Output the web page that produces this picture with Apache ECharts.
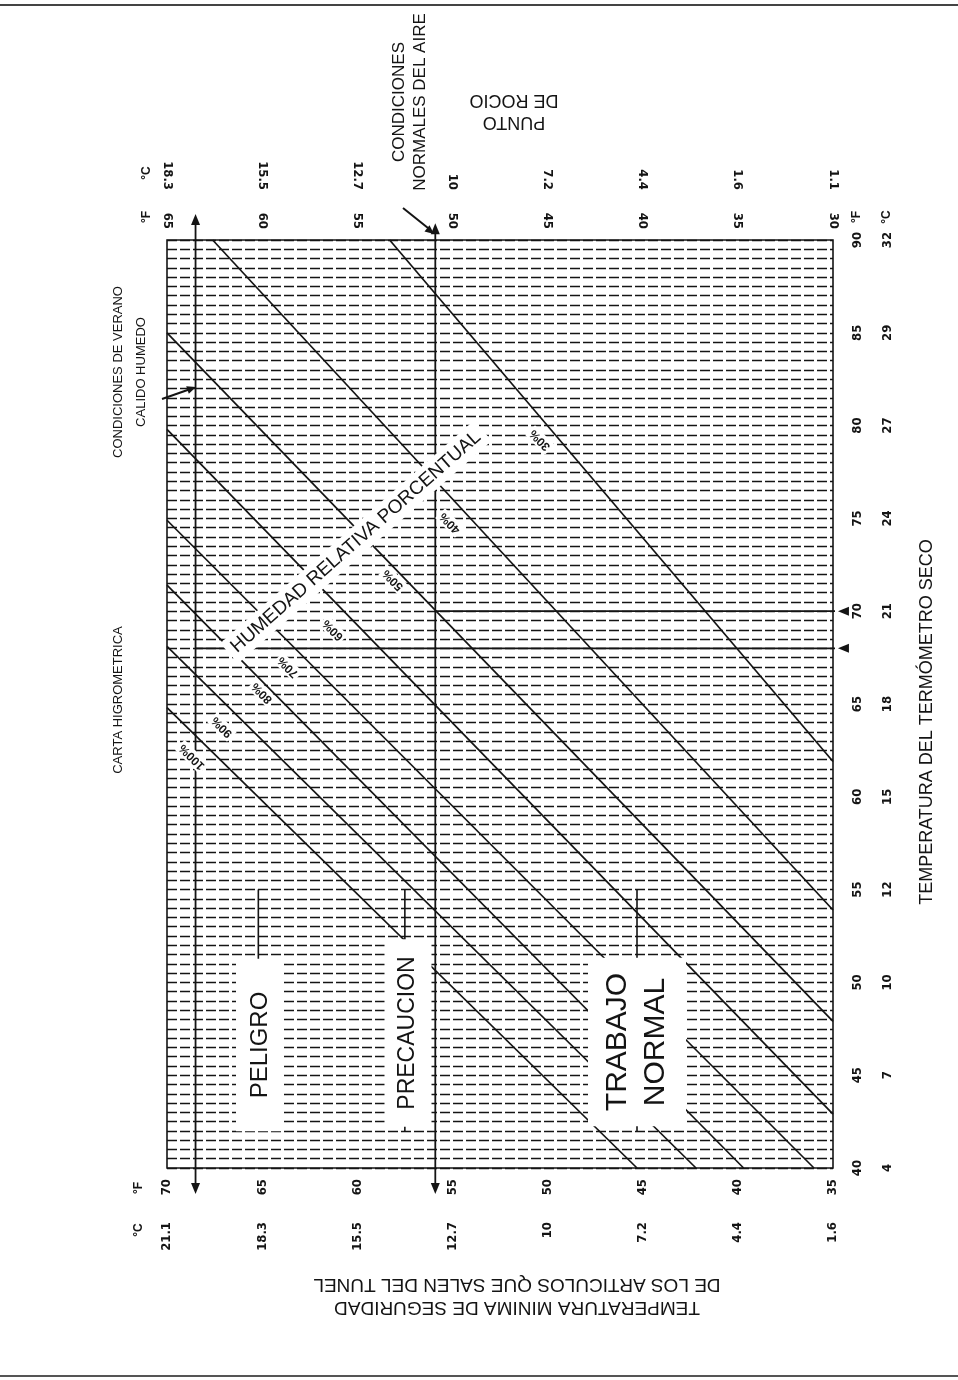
<!DOCTYPE html>
<html>
<head>
<meta charset="UTF-8">
<title>Carta higrometrica</title>
<style>
html,body{margin:0;padding:0;background:#fff;}
#main{width:958px;height:1380px;}
</style>
</head>
<body>
<div id="main"></div>
<script src="https://cdn.jsdelivr.net/npm/echarts/dist/echarts.min.js"></script>
<script>
// escalas tal como vienen impresas (°F y su equivalencia en °C)
var puntoRocioF = [30, 35, 40, 45, 50, 55, 60, 65];
var puntoRocioC = ['1.1', '1.6', '4.4', '7.2', '10', '12.7', '15.5', '18.3'];
var seguridadF = [35, 40, 45, 50, 55, 60, 65, 70];
var seguridadC = ['1.6', '4.4', '7.2', '10', '12.7', '15.5', '18.3', '21.1'];
var secoF = [40, 45, 50, 55, 60, 65, 70, 75, 80, 85, 90];
var secoC = ['4', '7', '10', '12', '15', '18', '21', '24', '27', '29', '32'];

// lineas de humedad relativa: [punto de rocio °F, termometro seco °F] en cada extremo
var humedades = ['100%', '90%', '80%', '70%', '60%', '50%', '40%', '30%'];
var hr100 = [[65, 64.8], [40.3, 40]];
var hr90 = [[65, 68.1], [37.2, 40]];
var hr80 = [[65, 71.4], [34.7, 40]];
var hr70 = [[65, 74.9], [31.0, 40]];
var hr60 = [[65, 79.8], [30, 42.9]];
var hr50 = [[65, 85.0], [30, 47.9]];
var hr40 = [[62.6, 90], [30, 53.9]];
var hr30 = [[53.3, 90], [30, 61.9]];
var lineasHR = [hr100, hr90, hr80, hr70, hr60, hr50, hr40, hr30];

// lineas del ejemplo de lectura
var verano = [[63.5, 91.1], [63.5, 38.9]];      // condiciones de verano
var normal = [[50.9, 90.6], [50.9, 38.9]];      // condiciones normales
var secoVerano = [[63.5, 68], [29.45, 68]];
var secoNormal = [[50.9, 70], [29.45, 70]];
// marcas de las zonas peligro / precaucion / trabajo normal
var marcasZona = [60.2, 52.5, 40.3];
var marcaSeco = [55, 42];

var tinta = '#141414';
var fuente = 'Liberation Sans, Arial, sans-serif';
var fuenteNum = 'DejaVu Sans Condensed, DejaVu Sans, sans-serif';

function etiqueta(valores, textos) {
	return function (v) {
		var i = valores.indexOf(v);
		return i < 0 ? '' : String(textos[i]);
	};
}

function ejeX(pos, offset, min, max, valores, textos, margen) {
	return {
		type: 'value', position: pos, offset: offset, min: min, max: max, interval: 5,
		inverse: true,
		axisLine: {show: false, onZero: false}, axisTick: {show: false}, splitLine: {show: false},
		axisLabel: {rotate: 90, margin: margen, fontSize: 13, fontWeight: 'bold', color: tinta, fontFamily: fuenteNum,
			formatter: etiqueta(valores, textos)}
	};
}

var trazo = {color: tinta, width: 1.4, type: [10, 3]};

var series = [];
lineasHR.forEach(function (d, i) {
	series.push({
		type: 'line', name: humedades[i], data: d, symbol: 'none', silent: true, z: 3,
		lineStyle: {color: tinta, width: 1.7}
	});
});

function flecha(p, giro) {
	return {value: p, symbol: 'triangle', symbolSize: [9, 11], symbolRotate: giro,
		itemStyle: {color: tinta}};
}
function ejemplo(d, g0, g1) {
	series.push({
		type: 'line', data: [g0 === null ? {value: d[0], symbol: 'none'} : flecha(d[0], g0),
			g1 === null ? {value: d[1], symbol: 'none'} : flecha(d[1], g1)],
		showSymbol: true, clip: false, silent: true, z: 4,
		lineStyle: {color: tinta, width: 1.8}
	});
}
ejemplo(verano, 0, 180);
ejemplo(normal, 0, 180);
ejemplo(secoVerano, null, 90);
ejemplo(secoNormal, null, 90);

marcasZona.forEach(function (x) {
	series.push({
		type: 'line', data: [[x, marcaSeco[0]], [x, marcaSeco[1]]], symbol: 'none', silent: true, z: 4,
		lineStyle: {color: tinta, width: 1.6}
	});
});

// textos
function texto(x, y, t, size, giro, extra) {
	var st = {text: t, font: size + 'px ' + fuente, fill: tinta,
		textAlign: 'center', textVerticalAlign: 'middle', align: 'center', verticalAlign: 'middle'};
	for (var k in (extra || {})) st[k] = extra[k];
	return {type: 'text', x: x, y: y, rotation: giro, z: 100, style: st};
}
var R90 = Math.PI / 2;
var graficos = [
	{type: 'line', z: 100, shape: {x1: 0, y1: 5, x2: 958, y2: 5}, style: {stroke: '#444', lineWidth: 2}},
	{type: 'line', z: 100, shape: {x1: 0, y1: 1376, x2: 958, y2: 1376}, style: {stroke: '#555', lineWidth: 2}},

	texto(118, 700, 'CARTA HIGROMETRICA', 13, R90),
	texto(130, 372, 'CONDICIONES DE VERANO\nCALIDO HUMEDO', 13, R90, {lineHeight: 23}),
	texto(410, 102, 'CONDICIONES\nNORMALES DEL AIRE', 17, R90, {lineHeight: 21}),
	texto(514, 111, 'PUNTO\nDE ROCIO', 18, Math.PI, {lineHeight: 22}),
	texto(927, 722, 'TEMPERATURA DEL TERMÓMETRO SECO', 18, R90),
	texto(517, 1296, 'TEMPERATURA MINIMA DE SEGURIDAD\nDE LOS ARTICULOS QUE SALEN DEL TUNEL', 19, Math.PI, {lineHeight: 23}),

	texto(147, 217, '°F', 13, R90, {fontWeight: 'bold'}), texto(147, 173, '°C', 13, R90, {fontWeight: 'bold'}),
	texto(857, 217, '°F', 13, R90, {fontWeight: 'bold'}), texto(887, 217, '°C', 13, R90, {fontWeight: 'bold'}),
	texto(139, 1188, '°F', 13, R90, {fontWeight: 'bold'}), texto(139, 1230, '°C', 13, R90, {fontWeight: 'bold'}),

	texto(260, 1045, 'PELIGRO', 24, R90, {backgroundColor: '#fff', padding: [12, 33, 12, 33]}),
	texto(408, 1033, 'PRECAUCION', 23, R90, {backgroundColor: '#fff', padding: [12, 17, 12, 17]}),
	texto(637, 1042, 'TRABAJO\nNORMAL', 30, R90, {lineHeight: 38, backgroundColor: '#fff', padding: [11, 15, 11, 15]}),
	texto(356, 542, 'HUMEDAD RELATIVA PORCENTUAL', 19, 0.72, {backgroundColor: '#fff', padding: [4, 6, 4, 6]}),

	// flechas que señalan las condiciones
	{type: 'line', z: 100, shape: {x1: 403, y1: 208, x2: 428, y2: 228}, style: {stroke: tinta, lineWidth: 2}},
	{type: 'polygon', z: 100, shape: {points: [[434, 234], [424.5, 231.5], [429.5, 225.3]]}, style: {fill: tinta}},
	{type: 'line', z: 100, shape: {x1: 162, y1: 399, x2: 189, y2: 389.5}, style: {stroke: tinta, lineWidth: 2}},
	{type: 'polygon', z: 100, shape: {points: [[196, 387], [188.8, 393.8], [186.2, 386.2]]}, style: {fill: tinta}}
];
var posHR = [[192, 757], [222, 727], [262, 693], [288, 667], [333, 630], [393, 580], [450, 523], [540, 440]];
humedades.forEach(function (h, i) {
	graficos.push(texto(posHR[i][0], posHR[i][1], h, 13, 3 * Math.PI / 4,
		{fontWeight: 'bold', backgroundColor: '#fff', padding: [1, 2, 1, 2]}));
});

var myChart = echarts.init(document.getElementById('main'));
myChart.setOption({
	backgroundColor: '#fff',
	animation: false,
	grid: {left: 167, right: 125, top: 240, bottom: 212, show: true, borderColor: tinta, borderWidth: 1.6,
		containLabel: false, outerBoundsMode: 'none'},
	xAxis: [
		ejeX('top', 0, 30, 65, puntoRocioF, puntoRocioF, 11),
		ejeX('top', 40, 30, 65, puntoRocioF, puntoRocioC, 10),
		ejeX('bottom', 0, 35, 70, seguridadF, seguridadF, 11),
		ejeX('bottom', 44, 35, 70, seguridadF, seguridadC, 10)
	],
	yAxis: [
		{type: 'value', position: 'right', min: 40, max: 90, interval: 5,
			axisLine: {show: false, onZero: false}, axisTick: {show: false},
			axisLabel: {rotate: 90, margin: 18, fontSize: 13, fontWeight: 'bold', color: tinta, fontFamily: fuenteNum,
				formatter: etiqueta(secoF, secoF)},
			splitLine: {show: true, lineStyle: trazo},
			minorTick: {show: false, splitNumber: 10},
			minorSplitLine: {show: true, lineStyle: trazo}},
		{type: 'value', position: 'right', offset: 30, min: 40, max: 90, interval: 5,
			axisLine: {show: false, onZero: false}, axisTick: {show: false}, splitLine: {show: false},
			axisLabel: {rotate: 90, margin: 18, fontSize: 13, fontWeight: 'bold', color: tinta, fontFamily: fuenteNum,
				formatter: etiqueta(secoF, secoC)}}
	],
	graphic: graficos,
	series: series
});
</script>
</body>
</html>
